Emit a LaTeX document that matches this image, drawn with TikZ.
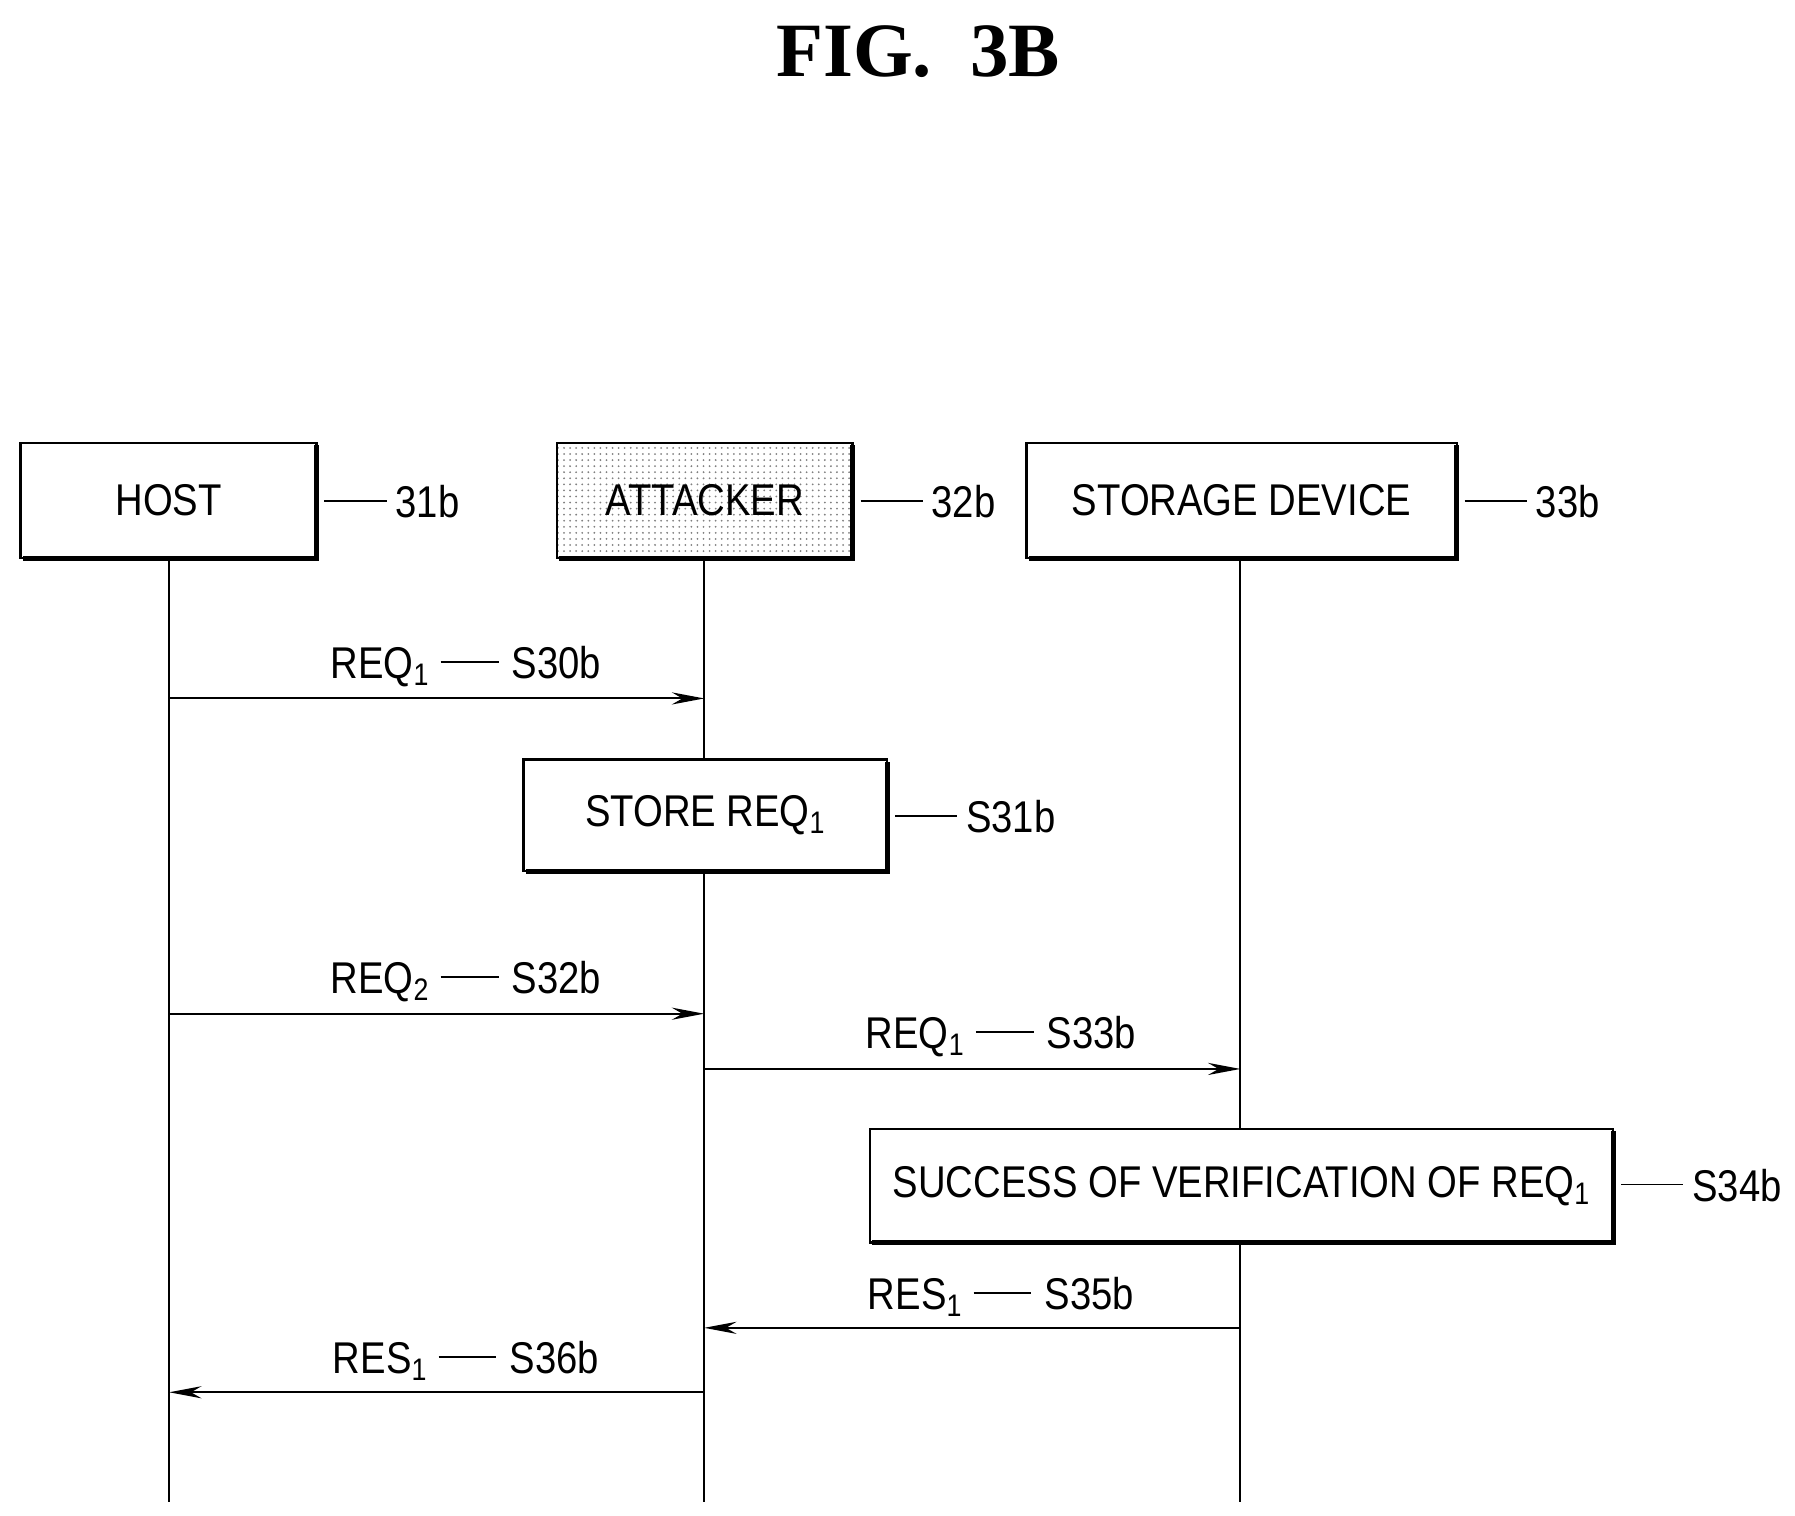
\documentclass[tikz,border=0pt]{standalone}
\usepackage{fontspec}
\setmainfont{Liberation Sans}[FakeStretch=0.86]
\newfontfamily\titlefont{Liberation Serif}
\usetikzlibrary{arrows.meta,patterns}
\newcommand{\ldash}{\hspace{0.25em}\rule[0.35em]{1.3em}{0.9pt}\hspace{0.3em}}
\newcommand{\tag}{\rule[0.35em]{1.4em}{0.9pt}\hspace{0.2em}}
\begin{document}
\begin{tikzpicture}[x=0.02cm,y=-0.02cm,
  every node/.style={font=\fontsize{22}{26}\selectfont},
  box/.style={draw,line width=1.2pt,inner sep=0pt},
  shadow/.style={line width=2.5pt},
  life/.style={line width=1pt},
  msg/.style={line width=1pt,-{Stealth[length=16pt,width=6pt]}},
  lab/.style={anchor=south}]
\useasboundingbox (0,0) rectangle (1560,1317);
\node[font=\titlefont\bfseries\fontsize{38}{42}\selectfont] (title) at (798,45) {FIG.\ \ 3B};
% boxes
\fill[pattern=dots,pattern color=gray] (484,385) rectangle (741,485);
\foreach \a/\b/\c/\d/\n in {18/385/275/485/h,484/385/741/485/a,892/385/1266/485/s,455/660/771/757/st,756/981/1402/1080/su}{
  \draw[box] (\a,\b) rectangle (\c,\d);
  \draw[shadow] (\a+2,\d) -- (\c,\d) -- (\c,\b+2);
  \coordinate (\n) at ({(\a+\c)/2},{(\b+\d)/2});
}
\node at (h) {HOST};
\node at (a) {ATTACKER};
\node at (s) {STORAGE DEVICE};
\node at (st) {STORE REQ\textsubscript{1}};
\node at (su) {SUCCESS OF VERIFICATION OF REQ\textsubscript{1}};
\node[anchor=west,inner sep=2pt] (l31) at (278,436) {\tag 31b};
\node[anchor=west,inner sep=2pt] (l32) at (744,436) {\tag 32b};
\node[anchor=west,inner sep=2pt] (l33) at (1269,436) {\tag 33b};
\node[anchor=west,inner sep=2pt] (l31s) at (774,710) {\tag S31b};
\node[anchor=west,inner sep=2pt] (l34) at (1405,1030) {\tag S34b};
% lifelines
\coordinate (H0) at (147,485); \coordinate (H1) at (147,1305);
\coordinate (A0) at (612,485); \coordinate (A1) at (612,660);
\coordinate (A2) at (612,757); \coordinate (A3) at (612,1305);
\coordinate (S0) at (1078,485); \coordinate (S1) at (1078,981);
\coordinate (S2) at (1078,1080); \coordinate (S3) at (1078,1305);
\draw[life] (H0) -- (H1);
\draw[life] (A0) -- (A1); \draw[life] (A2) -- (A3);
\draw[life] (S0) -- (S1); \draw[life] (S2) -- (S3);
% messages
\draw[msg] (147,607) -- (612,607);
\node[lab] (m30) at (405,603) {REQ\textsubscript{1}\ldash S30b};
\draw[msg] (147,881) -- (612,881);
\node[lab] (m32) at (405,877) {REQ\textsubscript{2}\ldash S32b};
\draw[msg] (612,929) -- (1078,929);
\node[lab] (m33) at (870,925) {REQ\textsubscript{1}\ldash S33b};
\draw[msg] (1078,1154) -- (612,1154);
\node[lab] (m35) at (870,1150) {RES\textsubscript{1}\ldash S35b};
\draw[msg] (612,1210) -- (147,1210);
\node[lab] (m36) at (405,1206) {RES\textsubscript{1}\ldash S36b};
\end{tikzpicture}
\end{document}
